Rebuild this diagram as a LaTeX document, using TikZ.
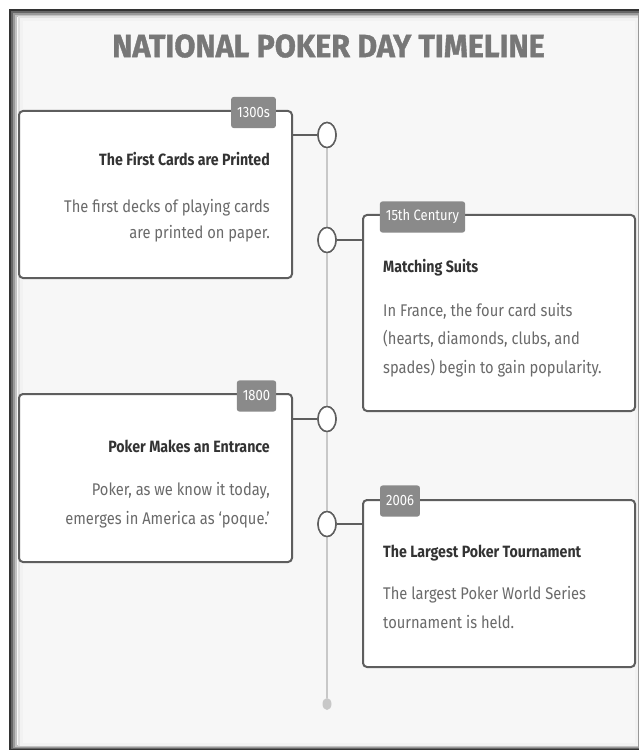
\documentclass[tikz,border=0pt]{standalone}
\usepackage{xcolor}
\usepackage{fontspec}
\setmainfont{Fira Sans}
\newfontfamily\bannerfont[FakeBold=1.2]{Fira Sans Bold}
\usepackage{tikz}
\usetikzlibrary{shapes,positioning,calc}

\definecolor{pagebg}{HTML}{F7F7F7}
\definecolor{cardline}{HTML}{5E5E5E}
\definecolor{tagfill}{HTML}{8A8A8A}
\definecolor{headtext}{HTML}{333333}
\definecolor{bodygray}{HTML}{6A6A6A}
\definecolor{titlegray}{HTML}{777777}
\definecolor{railgray}{HTML}{C8C8C8}

\begin{document}
\begin{tikzpicture}[x=1pt, y=-1pt]
% Define styles
\tikzstyle{card} = [rectangle, draw=cardline, line width=2pt, fill=white, rounded corners=4pt, minimum width=273pt, inner sep=0pt]
\tikzstyle{tag} = [rectangle, fill=tagfill, text=white, rounded corners=2.5pt, minimum height=27pt, inner xsep=6pt, font=\fontsize{13}{15}\selectfont, yscale=1.15, transform shape]
\tikzstyle{heading} = [font=\fontsize{14.2}{16}\selectfont\bfseries, text=headtext, inner sep=0pt, yscale=1.15, transform shape]
\tikzstyle{bodytext} = [font=\fontsize{14.7}{24.5}\selectfont, text=bodygray, inner sep=0pt, yscale=1.15, transform shape]
\tikzstyle{dot} = [ellipse, draw=cardline, line width=1.5pt, fill=white, minimum width=18pt, minimum height=25pt, inner sep=0pt]
\tikzstyle{link} = [draw=cardline, line width=2pt]

\useasboundingbox (0,0) rectangle (641,751);

% Frame with inner shadow
\fill[white] (0,0) rectangle (641,751);
\fill[pagebg] (9,9) rectangle (639,750);
\draw[black!80, line width=2pt] (10,10) rectangle (638,749);
\draw[black!60, line width=2pt] (12,12) rectangle (637.8,748);
\draw[black!40, line width=2pt] (14.2,13.8) rectangle (637.5,747);
\draw[black!24, line width=2pt] (16.4,15.6) rectangle (637,746);
\draw[black!12, line width=2.5pt] (18.8,17.6) rectangle (636.5,745);
\draw[black!5, line width=3pt] (21.5,20) rectangle (636,744);

% Title
\node[font=\fontsize{30.5}{34}\bannerfont, text=titlegray, inner sep=0pt, yscale=1.05, transform shape] (title) at (328.5,46) {NATIONAL POKER DAY TIMELINE};

% Timeline
\node[dot] (dot1) at (327,135) {};
\node[dot] (dot2) at (327,240) {};
\node[dot] (dot3) at (327,419) {};
\node[dot] (dot4) at (327,524) {};
\node[ellipse, fill=railgray, minimum width=9pt, minimum height=12pt, inner sep=0pt] (tail) at (327,704) {};

% Cards
\node[card, minimum height=167pt] (card1) at (155.5,194.5) {};
\node[card, minimum height=196pt, minimum width=272pt] (card2) at (499,313) {};
\node[card, minimum height=168pt] (card3) at (155.5,478) {};
\node[card, minimum height=167pt, minimum width=272pt] (card4) at (499,583.5) {};

% Year tags
\node[tag] (year1) at (253.5,112.5) {1300s};
\node[tag] (year2) at (422.5,217) {15th Century};
\node[tag] (year3) at (256.5,396) {1800};
\node[tag] (year4) at (400,501) {2006};

% Card texts (base anchor sits on the last line)
\node[heading, anchor=base east] (head1) at (270,166) {The First Cards are Printed};
\node[bodytext, font=\fontsize{14.7}{22.8}\selectfont, anchor=base east, align=right] (body1) at (270,238.5) {The first decks of playing cards\\are printed on paper.};
\node[heading, anchor=base west] (head2) at (383,272) {Matching Suits};
\node[bodytext, anchor=base west, align=left] (body2) at (383,373) {In France, the four card suits\\(hearts, diamonds, clubs, and\\spades) begin to gain popularity.};
\node[heading, anchor=base east] (head3) at (270,452) {Poker Makes an Entrance};
\node[bodytext, anchor=base east, align=right] (body3) at (270,524) {Poker, as we know it today,\\emerges in America as `poque.'};
\node[heading, anchor=base west] (head4) at (383,557) {The Largest Poker Tournament};
\node[bodytext, anchor=base west, align=left] (body4) at (383,628) {The largest Poker World Series\\tournament is held.};

% Connections
\draw[railgray, line width=1.5pt] (dot1) -- (tail);
\draw[link] (card1.east |- dot1) -- (dot1.west);
\draw[link] (card2.west |- dot2) -- (dot2.east);
\draw[link] (card3.east |- dot3) -- (dot3.west);
\draw[link] (card4.west |- dot4) -- (dot4.east);
\node[dot] at (dot1) {};
\node[dot] at (dot2) {};
\node[dot] at (dot3) {};
\node[dot] at (dot4) {};

\end{tikzpicture}
\end{document}
